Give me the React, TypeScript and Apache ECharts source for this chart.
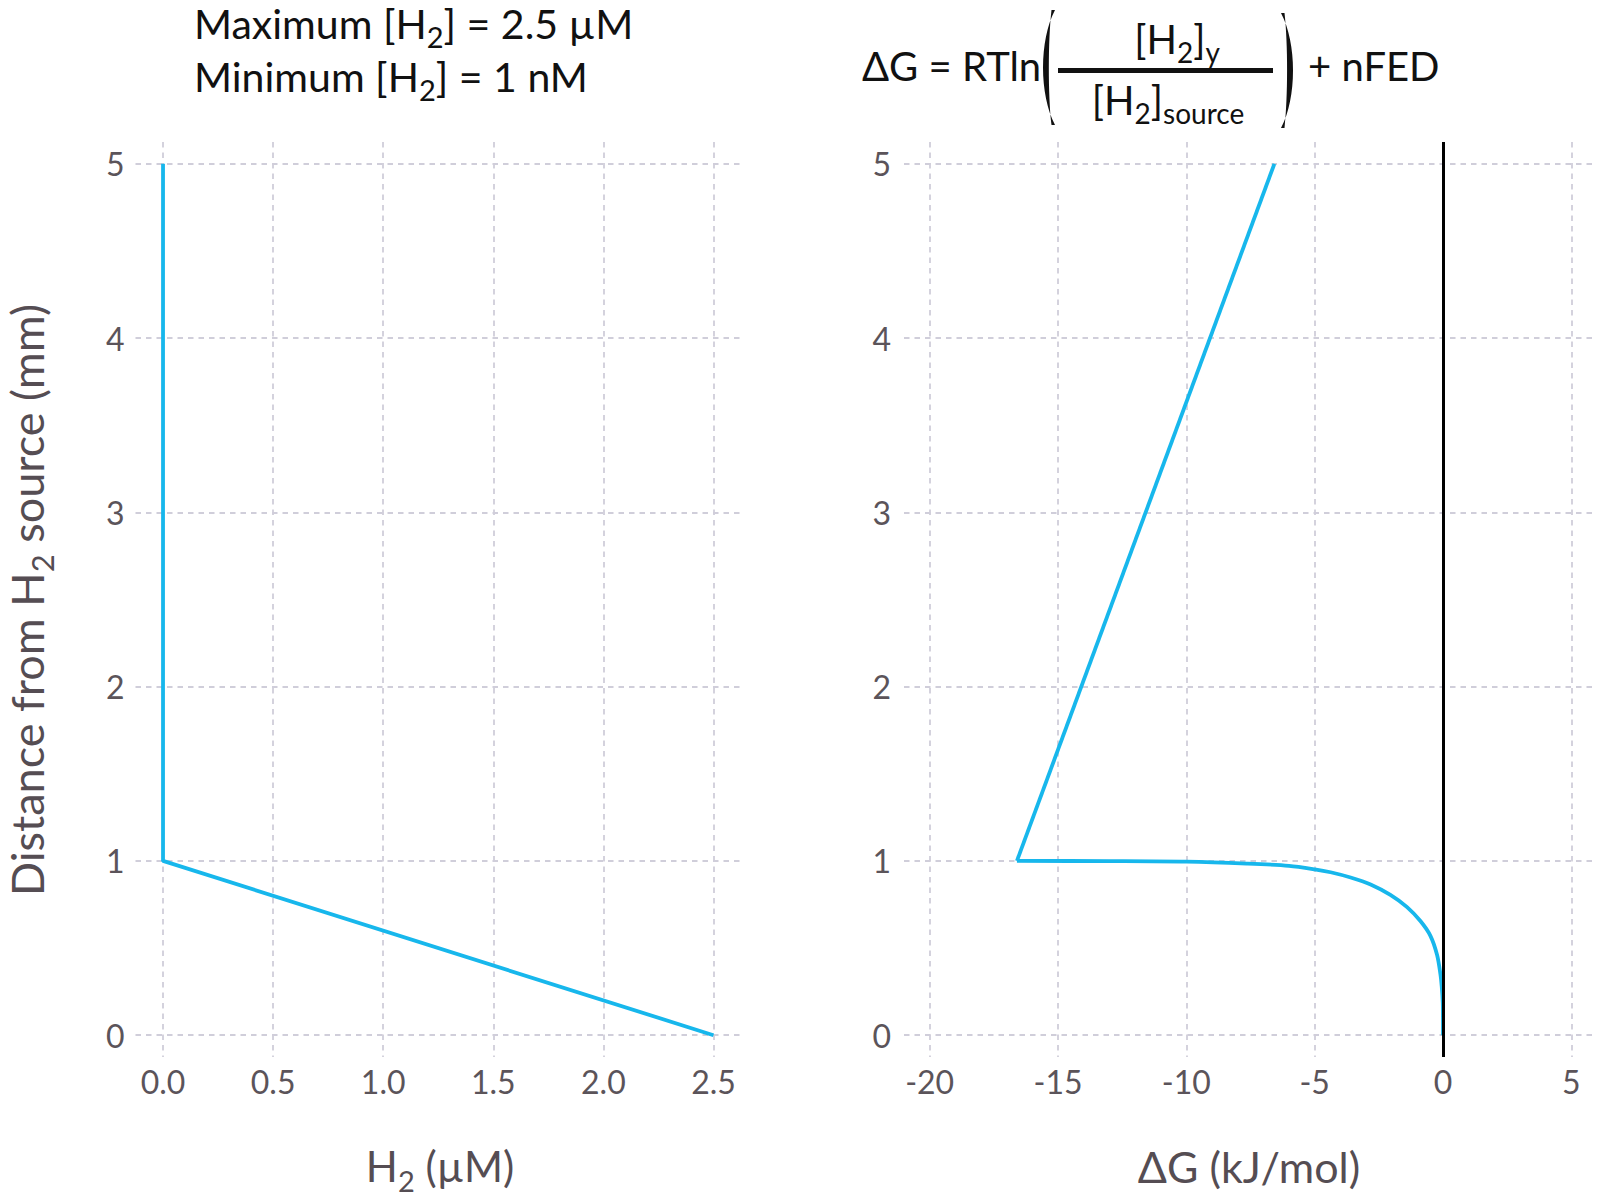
import React, { useEffect, useRef } from "react";
import * as echarts from "echarts";

// ---- data ----
// Left panel: H2 concentration (µM) vs distance from source (mm)
const h2Distance = [0, 1, 5];
const h2Micromolar = [2.5, 0.0, 0.0];

// Right panel: ΔG (kJ/mol) vs distance from source (mm)
// curved part (0 → 1 mm), then a straight segment from 1 mm to 5 mm
const dgDistance = [0, 0.1, 0.19, 0.28, 0.35, 0.46, 0.57, 0.655, 0.735, 0.805, 0.865, 0.905, 0.935, 0.952, 0.972, 0.985, 0.996, 0.999, 1.0, 5.0];
const dgKjPerMol = [0, -0.002, -0.01, -0.05, -0.1, -0.23, -0.49, -0.88, -1.4, -2.05, -2.82, -3.6, -4.38, -5.0, -6.0, -7.65, -10.0, -13.0, -16.6, -6.57];

// tick steps
const h2TickStep = 0.5;
const dgTickStep = 5;
const distTickStep = 1;

const FONT = "Lato, 'Noto Sans', sans-serif";
const BLUE = "#17B7EC";
const TICK_COLOR = "#5B545A";
const TITLE_GRAY = "#554D53";
const GRID_COLOR = "#D0CEDA";

const parenPath = "M15,0 C-1,30 -1,85 15,115 L11.5,115 C8,85 8,30 11.5,0 Z";
let parenRegistered = false;
function registerParen() {
  if (parenRegistered) return;
  echarts.graphic.registerShape("paren", echarts.graphic.extendPath(parenPath, {}) as any);
  parenRegistered = true;
}

const splitLine = {
  show: true,
  showMinLine: false,
  showMaxLine: false,
  lineStyle: { color: GRID_COLOR, width: 1.8, type: [5.5, 5] },
};

const baseAxis = {
  type: "value",
  axisLine: { show: false },
  axisTick: { show: false },
  splitLine,
};

const tickLabel = {
  color: TICK_COLOR,
  fontFamily: FONT,
  fontSize: 32,
  showMinLabel: false,
  showMaxLabel: false,
};

const richMain = (size: number, lh: number) => ({
  n: { fontSize: size, lineHeight: lh, fontFamily: FONT },
  s: { fontSize: Math.round(size * 0.7), verticalAlign: "bottom", fontFamily: FONT },
});

// compact line box for the top titles, subscript pushed down with padding
const richTitle = (size: number) => ({
  n: { fontSize: size, lineHeight: 44, fontFamily: FONT },
  s: { fontSize: Math.round(size * 0.7), verticalAlign: "bottom", padding: [0, 0, -6, 0], fontFamily: FONT },
});

export default function App() {
  const ref = useRef<HTMLDivElement>(null);

  useEffect(() => {
    if (!ref.current) return;
    registerParen();
    const chart = echarts.init(ref.current, null, { renderer: "svg" });

    const curvePart = dgKjPerMol.slice(0, -1).map((v, i) => [v, dgDistance[i]]);
    const last = dgKjPerMol.length - 1;
    const straightPart = [
      [dgKjPerMol[last - 1], dgDistance[last - 1]],
      [dgKjPerMol[last], dgDistance[last]],
    ];

    const option: any = {
      animation: false,
      backgroundColor: "#ffffff",
      textStyle: { fontFamily: FONT },
      grid: [
        { left: 135.5, top: 142, width: 605.5, height: 915, containLabel: false, outerBoundsMode: "none" },
        { left: 904, top: 142, width: 693, height: 915, containLabel: false, outerBoundsMode: "none" },
      ],
      xAxis: [
        {
          ...baseAxis,
          gridIndex: 0,
          min: -0.125,
          max: 2.625,
          minInterval: h2TickStep,
          maxInterval: h2TickStep,
          axisLabel: { ...tickLabel, margin: 8, formatter: (v: number) => v.toFixed(1) },
        },
        {
          ...baseAxis,
          gridIndex: 1,
          min: -21,
          max: 6,
          minInterval: dgTickStep,
          maxInterval: dgTickStep,
          axisLabel: { ...tickLabel, margin: 8, formatter: (v: number) => String(Math.round(v)) },
        },
      ],
      yAxis: [
        {
          ...baseAxis,
          gridIndex: 0,
          min: -0.125,
          max: 5.125,
          minInterval: distTickStep,
          maxInterval: distTickStep,
          axisLabel: { ...tickLabel, margin: 11, formatter: (v: number) => String(Math.round(v)) },
        },
        {
          ...baseAxis,
          gridIndex: 1,
          min: -0.125,
          max: 5.125,
          minInterval: distTickStep,
          maxInterval: distTickStep,
          axisLabel: { ...tickLabel, margin: 13, formatter: (v: number) => String(Math.round(v)) },
        },
      ],
      series: [
        {
          type: "line",
          xAxisIndex: 0,
          yAxisIndex: 0,
          data: h2Micromolar.map((v, i) => [v, h2Distance[i]]),
          showSymbol: false,
          symbol: "none",
          lineStyle: { color: BLUE, width: 3.8 },
          z: 3,
        },
        {
          type: "line",
          xAxisIndex: 1,
          yAxisIndex: 1,
          data: [[0, 0]],
          showSymbol: false,
          symbol: "none",
          lineStyle: { opacity: 0 },
          markLine: {
            silent: true,
            symbol: ["none", "none"],
            label: { show: false },
            lineStyle: { color: "#000000", width: 3, type: "solid" },
            data: [{ xAxis: 0 }],
          },
          z: 1,
        },
        {
          type: "line",
          xAxisIndex: 1,
          yAxisIndex: 1,
          data: curvePart,
          showSymbol: false,
          symbol: "none",
          smooth: 0.3,
          lineStyle: { color: BLUE, width: 3.8, join: "round" },
          z: 3,
        },
        {
          type: "line",
          xAxisIndex: 1,
          yAxisIndex: 1,
          data: straightPart,
          showSymbol: false,
          symbol: "none",
          lineStyle: { color: BLUE, width: 3.8, join: "round" },
          z: 3,
        },
      ],
      graphic: [
        {
          type: "text",
          x: 194,
          y: 23,
          style: {
            text: "{n|Maximum [H}{s|2}{n|] = 2.5 µM}",
            rich: richTitle(41),
            fill: "#111111",
            align: "left",
            verticalAlign: "middle",
          },
        },
        {
          type: "text",
          x: 194,
          y: 76,
          style: {
            text: "{n|Minimum [H}{s|2}{n|] = 1 nM}",
            rich: richTitle(41),
            fill: "#111111",
            align: "left",
            verticalAlign: "middle",
          },
        },
        {
          type: "text",
          x: 862,
          y: 66,
          style: {
            text: "ΔG = RTln",
            font: `40px ${FONT}`,
            fill: "#111111",
            align: "left",
            verticalAlign: "middle",
          },
        },
        {
          type: "paren",
          x: 1040,
          y: 10,
          scaleX: 1,
          scaleY: 1,
          style: { fill: "#111111" },
        },
        {
          type: "paren",
          x: 1296,
          y: 13,
          scaleX: -1,
          scaleY: 1,
          style: { fill: "#111111" },
        },
        {
          type: "line",
          shape: { x1: 1058, y1: 70.5, x2: 1273, y2: 70.5 },
          style: { stroke: "#111111", lineWidth: 5 },
        },
        {
          type: "text",
          x: 1177,
          y: 39,
          style: {
            text: "{n|[H}{s|2}{n|]}{s|y}",
            rich: richMain(40, 54),
            fill: "#111111",
            align: "center",
            verticalAlign: "middle",
          },
        },
        {
          type: "text",
          x: 1168,
          y: 100,
          style: {
            text: "{n|[H}{s|2}{n|]}{s|source}",
            rich: richMain(40, 54),
            fill: "#111111",
            align: "center",
            verticalAlign: "middle",
          },
        },
        {
          type: "text",
          x: 1308,
          y: 66,
          style: {
            text: "+ nFED",
            font: `40px ${FONT}`,
            fill: "#111111",
            align: "left",
            verticalAlign: "middle",
          },
        },
        {
          type: "text",
          x: 440,
          y: 1166,
          style: {
            text: "{n|H}{s|2}{n| (µM)}",
            rich: richMain(42, 58),
            fill: TITLE_GRAY,
            align: "center",
            verticalAlign: "middle",
          },
        },
        {
          type: "text",
          x: 1249,
          y: 1166,
          style: {
            text: "ΔG (kJ/mol)",
            font: `43px ${FONT}`,
            fill: TITLE_GRAY,
            align: "center",
            verticalAlign: "middle",
          },
        },
        {
          type: "text",
          x: 27,
          y: 600,
          rotation: Math.PI / 2,
          style: {
            text: "{n|Distance from H}{s|2}{n| source (mm)}",
            rich: richMain(45, 60),
            fill: TITLE_GRAY,
            align: "center",
            verticalAlign: "middle",
          },
        },
      ],
    };

    chart.setOption(option);
    return () => chart.dispose();
  }, []);

  return (
    <div
      ref={ref}
      style={{ position: "fixed", left: 0, top: 0, width: 1603, height: 1199, background: "#fff" }}
    />
  );
}
